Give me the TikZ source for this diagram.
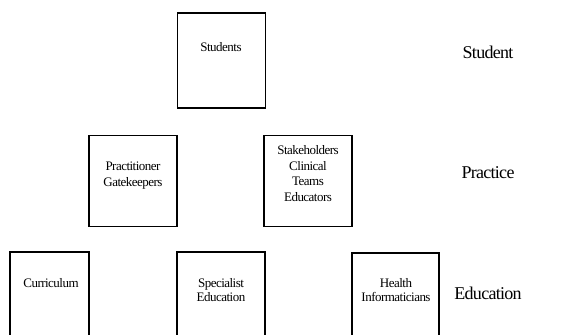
\documentclass[tikz,border=0pt]{standalone}
\usepackage{fontspec}
\setmainfont{Liberation Serif}
\newfontfamily\tightfont[LetterSpace=-4]{Liberation Serif}
\begin{document}
\begin{tikzpicture}[x=1pt,y=-1pt,
  boxnode/.style={draw,line width=1.3pt,inner sep=0pt},
  boxtext/.style={align=center,inner sep=0pt,font=\tightfont\fontsize{13}{16}\selectfont},
  levellabel/.style={inner sep=0pt,font=\tightfont\fontsize{18}{20}\selectfont}]
\useasboundingbox (0,0) rectangle (577,334);
\clip (0,0) rectangle (577,334);
% boxes
\node[boxnode,minimum width=88pt,minimum height=95pt] (students) at (221.5,60.5) {};
\node[boxnode,minimum width=88pt,minimum height=91pt] (pract) at (133,181) {};
\node[boxnode,minimum width=88pt,minimum height=91pt] (stake) at (308,181) {};
\node[boxnode,minimum width=79pt,minimum height=100pt] (curr) at (49.5,302) {};
\node[boxnode,minimum width=88pt,minimum height=100pt] (spec) at (221,302) {};
\node[boxnode,minimum width=87pt,minimum height=100pt] (health) at (395.5,303) {};
% texts
\node[boxtext] (tstudents) at (221,47) {Students};
\node[boxtext,font=\tightfont\fontsize{13}{16}\selectfont] (tpract) at (133,176) {Practitioner\\Gatekeepers};
\node[boxtext,font=\tightfont\fontsize{13}{15.8}\selectfont] (tstake) at (308,173.5) {Stakeholders\\Clinical\\Teams\\Educators};
\node[boxtext] (tcurr) at (51,283) {Curriculum};
\node[boxtext,font=\tightfont\fontsize{13}{14}\selectfont] (tspec) at (221,290.5) {Specialist\\Education};
\node[boxtext,font=\tightfont\fontsize{13}{14}\selectfont] (thealth) at (396,290.5) {Health\\Informaticians};
% level labels
\node[levellabel] (lstudent) at (488,52) {Student};
\node[levellabel] (lpractice) at (488,173) {Practice};
\node[levellabel] (leducation) at (488,293) {Education};
\end{tikzpicture}
\end{document}
